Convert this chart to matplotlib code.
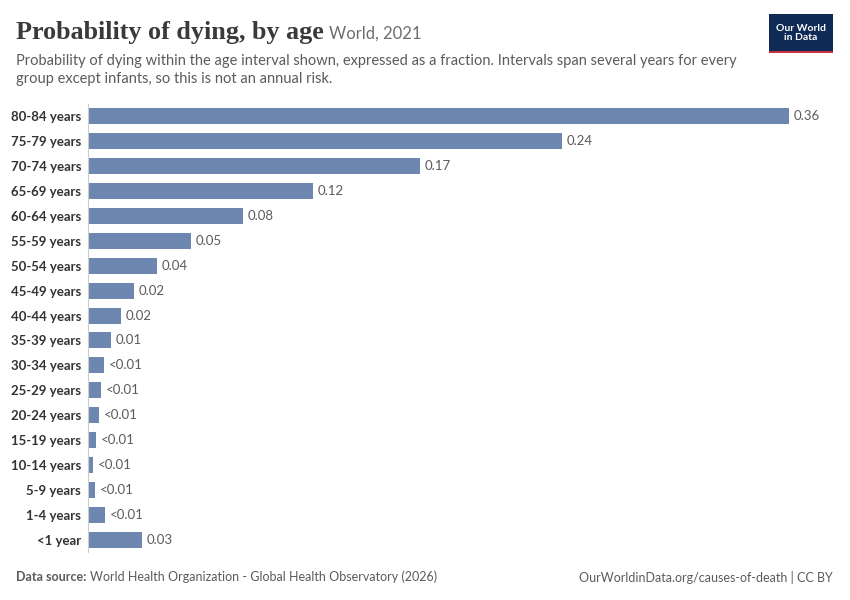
import matplotlib.pyplot as plt
from matplotlib.patches import Rectangle

ages = ['80-84 years', '75-79 years', '70-74 years', '65-69 years', '60-64 years',
        '55-59 years', '50-54 years', '45-49 years', '40-44 years', '35-39 years',
        '30-34 years', '25-29 years', '20-24 years', '15-19 years', '10-14 years',
        '5-9 years', '1-4 years', '<1 year']
values = [0.36, 0.2434, 0.1705, 0.1156, 0.0796, 0.0529, 0.0354, 0.0236, 0.0170,
          0.0118, 0.0082, 0.0067, 0.0056, 0.0041, 0.0026, 0.0036, 0.0087, 0.0277]
labels = ['0.36', '0.24', '0.17', '0.12', '0.08', '0.05', '0.04', '0.02', '0.02',
          '0.01', '<0.01', '<0.01', '<0.01', '<0.01', '<0.01', '<0.01', '<0.01', '0.03']

plt.rcParams['font.family'] = ['Lato', 'DejaVu Sans']
fig = plt.figure(figsize=(8.5, 6), dpi=100)
ax = fig.add_axes([88/850, 1-552/600, (789-88)/850, (552-104)/600])

y = list(range(len(ages)))
ax.barh(y, values, height=0.64, color='#6d87b0')
for yi, v, t in zip(y, values, labels):
    ax.text(v + 0.0025, yi, t, va='center', ha='left', fontsize=9.5, color='#5b5b5b')
ax.set_yticks(y)
ax.set_yticklabels(ages, fontsize=9.5, color='#333333', fontweight='bold')
ax.set_ylim(len(ages) - 0.5, -0.5)
ax.set_xlim(0, 0.36)
ax.set_xticks([])
ax.tick_params(axis='y', length=0, pad=5)
for s in ['top', 'right', 'bottom']:
    ax.spines[s].set_visible(False)
ax.spines['left'].set_color('#cccccc')

fig.text(16/850, 1-33/600, 'Probability of dying, by age', fontsize=18.8, family=['Liberation Serif'],
         fontweight='bold', color='#3a3a3a', va='center')
fig.text(329/850, 1-34/600, 'World, 2021', fontsize=12, color='#6e6e6e', va='center')
fig.text(16/850, 1-70/600,
         'Probability of dying within the age interval shown, expressed as a fraction. Intervals span several years for every\n'
         'group except infants, so this is not an annual risk.',
         fontsize=10.5, color='#5b5b5b', va='center', linespacing=1.4)

fig.patches.append(Rectangle((769/850, 1-52/600), 64/850, 38/600, transform=fig.transFigure,
                             facecolor='#0f2b55', edgecolor='none'))
fig.patches.append(Rectangle((769/850, 1-53/600), 64/850, 2.5/600, transform=fig.transFigure,
                             facecolor='#c8313b', edgecolor='none'))
fig.text(801/850, 1-33/600, 'Our World\nin Data', fontsize=7.5, color='white', ha='center', va='center',
         fontweight='bold', linespacing=1.1)

fig.text(16/850, 1-577/600, 'Data source:', fontsize=9, color='#5b5b5b', va='center', fontweight='bold')
fig.text(90/850, 1-577/600, 'World Health Organization - Global Health Observatory (2026)',
         fontsize=9, color='#5b5b5b', va='center')
fig.text(833/850, 1-577/600, 'OurWorldinData.org/causes-of-death | CC BY', fontsize=9, color='#5b5b5b',
         ha='right', va='center')

fig.savefig('out.png', dpi=100, facecolor='white')
